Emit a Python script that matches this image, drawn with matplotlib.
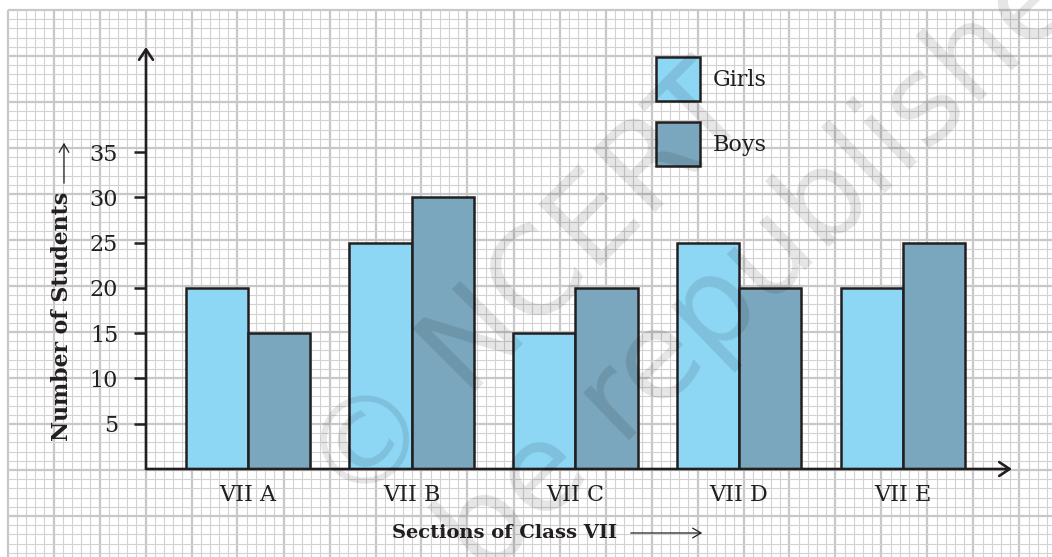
import matplotlib
matplotlib.use("Agg")
import matplotlib.pyplot as plt
import numpy as np

# ---- data ----
sections = ["VII A", "VII B", "VII C", "VII D", "VII E"]
girls = [20, 25, 15, 25, 20]
boys = [15, 30, 20, 20, 25]
yticks = [5, 10, 15, 20, 25, 30, 35]

W, H = 1052, 557
fig = plt.figure(figsize=(W / 100, H / 100), dpi=100)
fig.patch.set_facecolor("white")

# ---- graph paper background (pixel coordinates) ----
bg = fig.add_axes([0, 0, 1, 1], zorder=-5)
bg.set_xlim(0, W)
bg.set_ylim(H, 0)
bg.axis("off")
x0, y0, step = 7.5, 10.0, 9.2
nx = int((W - x0) / step) + 1
ny = int((H - y0) / step) + 1
for k in range(nx):
    x = x0 + k * step
    major = k % 5 == 0
    bg.plot([x, x], [y0, H], color="#d2d2d2" if not major else "#c8c8c8",
            lw=0.8 if not major else 1.6, solid_capstyle="butt")
for k in range(ny):
    y = y0 + k * step
    major = k % 5 == 0
    bg.plot([x0, W], [y, y], color="#d2d2d2" if not major else "#c8c8c8",
            lw=0.8 if not major else 1.6, solid_capstyle="butt")

# ---- main axes ----
ink = "#231f20"
left, right, base, top = 146, 1012, 469, 47
ax = fig.add_axes([left / W, (H - base) / H, (right - left) / W, (base - top) / H])
ax.patch.set_visible(False)
for s in ax.spines.values():
    s.set_visible(False)

xpos = np.arange(len(sections))
w = 0.38
ax.bar(xpos - w / 2, girls, w, color="#8dd7f5", edgecolor=ink, linewidth=1.8,
       label="Girls", zorder=3)
ax.bar(xpos + w / 2, boys, w, color="#7ba7be", edgecolor=ink, linewidth=1.8,
       label="Boys", zorder=3)
ax.set_xlim(-0.623, 4.667)
ax.set_ylim(0, 46.6)

ax.set_yticks(yticks)
ax.set_yticklabels([str(v) for v in yticks])
ax.set_xticks(xpos)
ax.set_xticklabels(sections)
ax.tick_params(axis="y", length=8.6, width=1.8, color=ink, pad=11.5,
               labelsize=16, labelcolor=ink)
ax.tick_params(axis="x", length=0, pad=10.8, labelsize=16, labelcolor=ink)
for lab in ax.get_xticklabels() + ax.get_yticklabels():
    lab.set_family("DejaVu Serif")

# axis arrows
arw = dict(arrowstyle="->,head_length=0.75,head_width=0.5", color=ink,
           lw=1.9, shrinkA=0, shrinkB=0)
ax.annotate("", xy=(0, 1), xytext=(0, 0), xycoords="axes fraction",
            textcoords="axes fraction", arrowprops=arw, zorder=4)
ax.annotate("", xy=(1, 0), xytext=(0, 0), xycoords="axes fraction",
            textcoords="axes fraction", arrowprops=arw, zorder=4)

# legend
leg = ax.legend(loc="upper left", bbox_to_anchor=(656 / W, 1 - 57 / H),
                bbox_transform=fig.transFigure, frameon=False, borderpad=0,
                borderaxespad=0, handlelength=1.98, handleheight=2.67,
                labelspacing=0.95, handletextpad=0.58,
                prop={"family": "DejaVu Serif", "size": 16})
for t in leg.get_texts():
    t.set_color(ink)

# axis labels
fig.text(62 / W, 1 - 316 / H, "Number of Students", rotation=90,
         ha="center", va="center", family="DejaVu Serif", weight="bold",
         fontsize=15.8, color=ink)
fig.text(392 / W, 1 - 533 / H, "Sections of Class VII", ha="left",
         va="center", family="DejaVu Serif", weight="bold", fontsize=14.0,
         color=ink)
fig.add_artist(matplotlib.patches.FancyArrowPatch(
    (628 / W, 1 - 533 / H), (705 / W, 1 - 533 / H),
    transform=fig.transFigure, mutation_scale=10,
    arrowstyle="->,head_length=0.6,head_width=0.35", color=ink, lw=0.9))
fig.add_artist(matplotlib.patches.FancyArrowPatch(
    (64 / W, 1 - 186 / H), (64 / W, 1 - 140 / H),
    transform=fig.transFigure, mutation_scale=10,
    arrowstyle="->,head_length=0.6,head_width=0.35", color=ink, lw=0.9))

# watermark
fig.text(530 / W, 1 - 290 / H, "© NCERT", rotation=45, ha="center",
         va="center", rotation_mode="anchor", family="DejaVu Sans",
         fontsize=88, color="black", alpha=0.10, zorder=10)
fig.text(643 / W, 1 - 380 / H, "not to be republished", rotation=44,
         ha="center", va="center", rotation_mode="anchor",
         family="DejaVu Sans", fontsize=88, color="black", alpha=0.10,
         zorder=10)

fig.savefig("out.png", dpi=100)
